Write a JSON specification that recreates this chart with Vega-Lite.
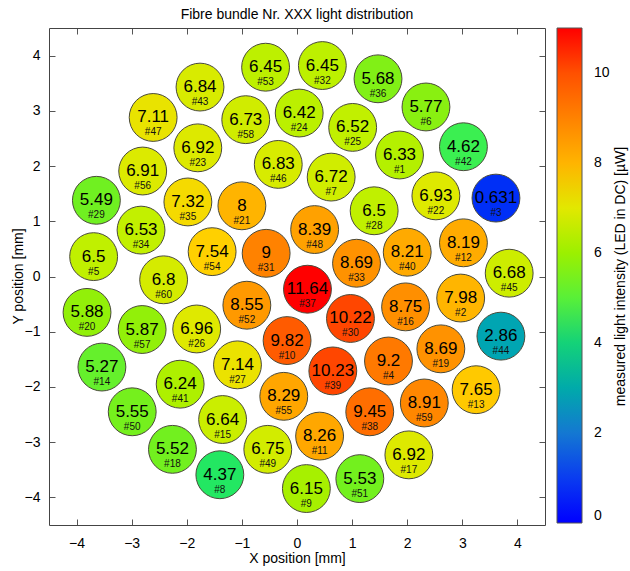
{
  "$schema": "https://vega.github.io/schema/vega-lite/v6.json",
  "width": 496,
  "height": 497,
  "autosize": {"type": "none"},
  "padding": {"left": 49, "top": 28, "right": 85, "bottom": 46},
  "background": "white",
  "config": {
    "font": "Liberation Sans",
    "view": {"stroke": null},
    "axis": {"grid": false, "domainColor": "#444444", "tickColor": "#555555", "labelFontSize": 14, "titleFontSize": 14, "labelColor": "#000000", "titleColor": "#000000", "titleFontWeight": "normal", "labelFont": "Liberation Sans", "titleFont": "Liberation Sans"},
    "legend": {"labelFont": "Liberation Sans", "titleFont": "Liberation Sans"}
  },
  "title": {"text": "Fibre bundle Nr. XXX light distribution", "fontSize": 14, "fontWeight": "normal", "font": "Liberation Sans", "color": "#000000", "offset": 6},
  "data": {"values": [
    {"id": "#1", "v": 6.33, "x": 1.86, "y": 2.20},
    {"id": "#2", "v": 7.98, "x": 2.97, "y": -0.39},
    {"id": "#3", "v": 0.631, "x": 3.61, "y": 1.42},
    {"id": "#4", "v": 9.2, "x": 1.66, "y": -1.53},
    {"id": "#5", "v": 6.5, "x": -3.69, "y": 0.36},
    {"id": "#6", "v": 5.77, "x": 2.34, "y": 3.07},
    {"id": "#7", "v": 6.72, "x": 0.62, "y": 1.80},
    {"id": "#8", "v": 4.37, "x": -1.40, "y": -3.59},
    {"id": "#9", "v": 6.15, "x": 0.17, "y": -3.84},
    {"id": "#10", "v": 9.82, "x": -0.18, "y": -1.16},
    {"id": "#11", "v": 8.26, "x": 0.41, "y": -2.89},
    {"id": "#12", "v": 8.19, "x": 3.02, "y": 0.61},
    {"id": "#13", "v": 7.65, "x": 3.25, "y": -2.05},
    {"id": "#14", "v": 5.27, "x": -3.54, "y": -1.64},
    {"id": "#15", "v": 6.64, "x": -1.35, "y": -2.59},
    {"id": "#16", "v": 8.75, "x": 1.97, "y": -0.55},
    {"id": "#17", "v": 6.92, "x": 2.03, "y": -3.23},
    {"id": "#18", "v": 5.52, "x": -2.26, "y": -3.13},
    {"id": "#19", "v": 8.69, "x": 2.61, "y": -1.31},
    {"id": "#20", "v": 5.88, "x": -3.81, "y": -0.65},
    {"id": "#21", "v": 8, "x": -1.00, "y": 1.28},
    {"id": "#22", "v": 6.93, "x": 2.52, "y": 1.46},
    {"id": "#23", "v": 6.92, "x": -1.80, "y": 2.33},
    {"id": "#24", "v": 6.42, "x": 0.04, "y": 2.96},
    {"id": "#25", "v": 6.52, "x": 1.01, "y": 2.70},
    {"id": "#26", "v": 6.96, "x": -1.82, "y": -0.95},
    {"id": "#27", "v": 7.14, "x": -1.08, "y": -1.60},
    {"id": "#28", "v": 6.5, "x": 1.40, "y": 1.19},
    {"id": "#29", "v": 5.49, "x": -3.64, "y": 1.38},
    {"id": "#30", "v": 10.22, "x": 0.97, "y": -0.76},
    {"id": "#31", "v": 9, "x": -0.56, "y": 0.42},
    {"id": "#32", "v": 6.45, "x": 0.46, "y": 3.82},
    {"id": "#33", "v": 8.69, "x": 1.08, "y": 0.24},
    {"id": "#34", "v": 6.53, "x": -2.83, "y": 0.84},
    {"id": "#35", "v": 7.32, "x": -1.98, "y": 1.35},
    {"id": "#36", "v": 5.68, "x": 1.47, "y": 3.58},
    {"id": "#37", "v": 11.64, "x": 0.19, "y": -0.23},
    {"id": "#38", "v": 9.45, "x": 1.32, "y": -2.45},
    {"id": "#39", "v": 10.23, "x": 0.65, "y": -1.71},
    {"id": "#40", "v": 8.21, "x": 2.00, "y": 0.44},
    {"id": "#41", "v": 6.24, "x": -2.12, "y": -1.95},
    {"id": "#42", "v": 4.62, "x": 3.02, "y": 2.35},
    {"id": "#43", "v": 6.84, "x": -1.76, "y": 3.43},
    {"id": "#44", "v": 2.86, "x": 3.70, "y": -1.08},
    {"id": "#45", "v": 6.68, "x": 3.85, "y": 0.06},
    {"id": "#46", "v": 6.83, "x": -0.34, "y": 2.03},
    {"id": "#47", "v": 7.11, "x": -2.61, "y": 2.88},
    {"id": "#48", "v": 8.39, "x": 0.32, "y": 0.85},
    {"id": "#49", "v": 6.75, "x": -0.53, "y": -3.13},
    {"id": "#50", "v": 5.55, "x": -2.99, "y": -2.45},
    {"id": "#51", "v": 5.53, "x": 1.14, "y": -3.66},
    {"id": "#52", "v": 8.55, "x": -0.91, "y": -0.52},
    {"id": "#53", "v": 6.45, "x": -0.57, "y": 3.79},
    {"id": "#54", "v": 7.54, "x": -1.54, "y": 0.45},
    {"id": "#55", "v": 8.29, "x": -0.24, "y": -2.17},
    {"id": "#56", "v": 6.91, "x": -2.80, "y": 1.91},
    {"id": "#57", "v": 5.87, "x": -2.81, "y": -0.96},
    {"id": "#58", "v": 6.73, "x": -0.93, "y": 2.84},
    {"id": "#59", "v": 8.91, "x": 2.31, "y": -2.29},
    {"id": "#60", "v": 6.8, "x": -2.42, "y": -0.06}
  ]},
  "layer": [
    {
      "mark": {"type": "point", "shape": "circle", "filled": true, "opacity": 1, "stroke": "#4a4a3a", "strokeWidth": 1, "size": 2290},
      "encoding": {
        "x": {"field": "x", "type": "quantitative", "scale": {"domain": [-4.5, 4.5], "nice": false, "zero": false}, "axis": {"orient": "bottom", "title": "X position [mm]", "values": [-4, -3, -2, -1, 0, 1, 2, 3, 4], "tickSize": -6, "labelPadding": 17, "titleX": 248, "titleY": 33, "titleAlign": "center", "titleBaseline": "middle"}},
        "y": {"field": "y", "type": "quantitative", "scale": {"domain": [-4.5, 4.5], "nice": false, "zero": false}, "axis": {"orient": "left", "title": "Y position [mm]", "values": [-4, -3, -2, -1, 0, 1, 2, 3, 4], "tickSize": -6, "labelPadding": 15, "titleX": -31, "titleY": 248, "titleAngle": 270, "titleAlign": "center", "titleBaseline": "middle"}},
        "color": {"field": "v", "type": "quantitative",
          "scale": {"domain": [0, 1, 2, 3, 4, 4.5, 5, 5.5, 6, 6.5, 7, 7.5, 8, 9, 10, 11],
                    "range": ["#0000ff", "#0a3cf0", "#1478d2", "#00aaaa", "#14d278", "#30ee58", "#58f038", "#70f020", "#9cf000", "#c0f000", "#e2e800", "#ffd200", "#ffb400", "#ff8200", "#ff5000", "#ff0000"],
                    "clamp": true},
          "legend": {"orient": "none", "legendX": 508, "legendY": 0, "direction": "vertical", "gradientLength": 495, "gradientThickness": 25, "gradientStrokeColor": "#555555", "gradientStrokeWidth": 1, "values": [0, 2, 4, 6, 8, 10], "labelFontSize": 14, "labelColor": "#000000", "labelOffset": 12, "title": null}}
      }
    },
    {
      "mark": {"type": "text", "fontSize": 17, "baseline": "middle", "align": "center", "color": "#000000"},
      "encoding": {
        "x": {"field": "x", "type": "quantitative", "axis": {"orient": "top", "labels": false, "title": null, "values": [-4, -3, -2, -1, 0, 1, 2, 3, 4], "tickSize": -6}},
        "y": {"field": "y", "type": "quantitative", "axis": {"orient": "right", "labels": false, "title": "measured light intensity (LED in DC) [µW]", "titleX": 75, "titleY": 248, "titleAngle": 270, "titleAlign": "center", "titleBaseline": "middle", "titleLimit": 700, "values": [-4, -3, -2, -1, 0, 1, 2, 3, 4], "tickSize": -6}},
        "text": {"field": "v", "type": "nominal"}
      }
    },
    {
      "mark": {"type": "text", "fontSize": 10, "baseline": "middle", "align": "center", "dy": 15, "color": "#111111"},
      "encoding": {
        "x": {"field": "x", "type": "quantitative", "axis": null},
        "y": {"field": "y", "type": "quantitative", "axis": null},
        "text": {"field": "id", "type": "nominal"}
      }
    }
  ],
  "resolve": {"axis": {"x": "independent", "y": "independent"}}
}
